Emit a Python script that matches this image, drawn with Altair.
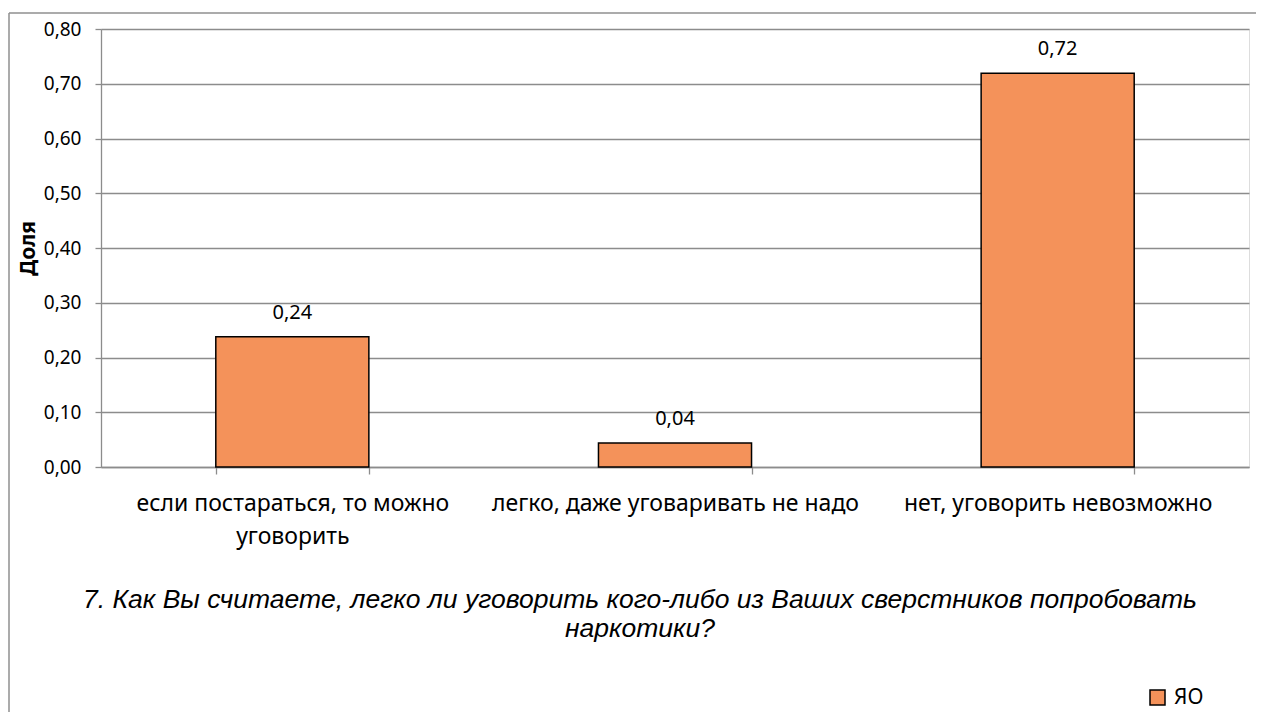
import altair as alt
import pandas as pd

categories = [
    "если постараться, то можно уговорить",
    "легко, даже уговаривать не надо",
    "нет, уговорить невозможно",
]
values = [0.238, 0.044, 0.719]
series_name = "ЯО"
title_lines = [
    "7. Как Вы считаете, легко ли уговорить кого-либо из Ваших сверстников попробовать",
    "наркотики?",
]
y_ticks = [0.0, 0.1, 0.2, 0.3, 0.4, 0.5, 0.6, 0.7, 0.8]

df = pd.DataFrame({"cat": categories, "val": values, "series": series_name})

W, H = 1148, 438
GRID = "#8c8c8c"
FRAME = "#8f8f8f"
FONT = "Noto Sans"

label_expr = (
    "datum.label == 'если постараться, то можно уговорить' ? "
    "['если постараться, то можно', 'уговорить'] : datum.label"
)

x = alt.X(
    "cat:N",
    sort=None,
    scale=alt.Scale(paddingInner=0.6, paddingOuter=0.3),
    axis=alt.Axis(
        title=None,
        labelAngle=0,
        labelExpr=label_expr,
        labelFont=FONT,
        labelFontSize=23,
        labelColor="#000000",
        labelPadding=18,
        labelLineHeight=33,
        labelLimit=600,
        tickBand="extent",
        tickSize=7,
        tickColor=GRID,
        domainColor=GRID,
        domainWidth=1.3,
        tickWidth=1.3,
        grid=False,
    ),
)

y = alt.Y(
    "val:Q",
    scale=alt.Scale(domain=[0, 0.8], nice=False),
    axis=alt.Axis(
        title="Доля",
        titleFont=FONT,
        titleFontSize=21,
        titleFontWeight="bold",
        titleColor="#000000",
        titlePadding=5,
        values=y_ticks,
        labelExpr="replace(format(datum.value, '.2f'), '.', ',')",
        labelFont=FONT,
        labelFontSize=19,
        labelColor="#000000",
        labelPadding=14,
        tickSize=6,
        tickColor=GRID,
        tickWidth=1.3,
        domainColor=GRID,
        domainWidth=1.3,
        grid=True,
        gridColor=GRID,
        gridWidth=1.3,
    ),
)

bars = alt.Chart(df).mark_bar(stroke="#000000", strokeWidth=1.5).encode(
    x=x,
    y=y,
    color=alt.Color(
        "series:N",
        scale=alt.Scale(range=["#F4925A"]),
        legend=alt.Legend(
            title=None,
            orient="none",
            legendX=1046,
            legendY=658,
            symbolType="square",
            symbolSize=225,
            symbolStrokeColor="#000000",
            symbolStrokeWidth=1.5,
            labelFont=FONT,
            labelFontSize=21,
            labelColor="#000000",
            labelOffset=6,
            padding=0,
        ),
    ),
)

labels = alt.Chart(df).mark_text(
    baseline="alphabetic", dy=-18, font=FONT, fontSize=20, color="#000000"
).encode(
    x=alt.X("cat:N", sort=None),
    y="val:Q",
    text=alt.Text("label:N"),
).transform_calculate(label="replace(format(datum.val, '.2f'), '.', ',')")

title_text = alt.Chart(df.head(1)).mark_text(
    font="Liberation Sans",
    fontSize=26.5,
    fontStyle="italic",
    color="#000000",
    align="center",
    baseline="alphabetic",
    lineHeight=29,
).encode(
    x=alt.value(539),
    y=alt.value(579),
    text=alt.value(title_lines),
)

frame_top = alt.Chart(df.head(1)).mark_rule(color=FRAME, strokeWidth=1.5).encode(
    x=alt.value(-92), x2=alt.value(W + 10), y=alt.value(-16)
)
frame_left = alt.Chart(df.head(1)).mark_rule(color=FRAME, strokeWidth=1.5).encode(
    x=alt.value(-92), y=alt.value(-16), y2=alt.value(H + 260)
)

chart = (
    alt.layer(bars, labels, title_text, frame_top, frame_left)
    .properties(
        width=W,
        height=H,
        autosize=alt.AutoSizeParams(type="none"),
        padding={"left": 93, "top": 21, "right": 7, "bottom": 245},
    )
    .configure_view(stroke=None)
    .configure(background="white")
)

chart.save("out.html", embed_options={"renderer": "svg", "actions": False})
